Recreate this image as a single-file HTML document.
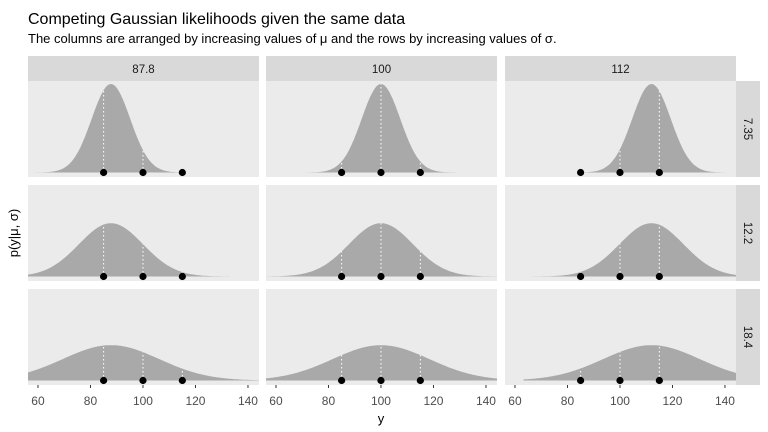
<!DOCTYPE html>
<html><head><meta charset="utf-8"><style>
html,body{margin:0;padding:0;background:#fff;}
svg{display:block;font-family:"Liberation Sans",Arial,sans-serif;}
</style></head><body>
<svg id="chart" width="768" height="432" viewBox="0 0 768 432">
<text x="28" y="24" font-size="16" fill="#000">Competing Gaussian likelihoods given the same data</text>
<text x="28" y="43" font-size="13" fill="#000">The columns are arranged by increasing values of μ and the rows by increasing values of σ.</text>
<text transform="translate(18,233) rotate(-90)" text-anchor="middle" font-size="13" fill="#000">p(y|μ, σ)</text>
<text x="381" y="423" text-anchor="middle" font-size="13" fill="#000">y</text>
<g id="plot"></g>
</svg>
<script>
const muValues = [87.8, 100, 112];
const sigmaValues = [7.35, 12.2, 18.4];
const dataPoints = [85, 100, 115];
const xTicks = [60, 80, 100, 120, 140];
const muLabels = ["87.8", "100", "112"];
const sigmaLabels = ["7.35", "12.2", "18.4"];

const NS = "http://www.w3.org/2000/svg";
const g = document.getElementById("plot");
const colX = [28, 266, 505], colW = 231;
const rowY = [81, 185, 289], rowH = 96;
const xMin = 56.2, xMax = 144.2;
const yScale = 1630;
function sx(c, v){ return colX[c] + (v - xMin) / (xMax - xMin) * colW; }
function sy(r, d){ return rowY[r] + rowH - 4.5 - d * yScale; }
function dens(x, m, s){ return Math.exp(-0.5*((x-m)/s)**2) / (s*Math.sqrt(2*Math.PI)); }
function mk(tag, attrs){ const e = document.createElementNS(NS, tag); for (const k in attrs) e.setAttribute(k, attrs[k]); g.appendChild(e); return e; }

muValues.forEach((m, c) => {
  const st = mk("rect", {x: colX[c], y: 56, width: colW, height: 25, fill: "#d9d9d9"});
  
  
  const tt = mk("text", {x: colX[c] + colW/2, y: 73, "text-anchor": "middle", "font-size": 11.5, fill: "#1a1a1a"});
  tt.textContent = muLabels[c];
  
  
  xTicks.forEach(t => {
    const tk = mk("line", {x1: sx(c, t), x2: sx(c, t), y1: rowY[2] + rowH, y2: rowY[2] + rowH + 3, stroke: "#333", "stroke-width": 1});
    
    
    const tl = mk("text", {x: sx(c, t), y: 405, "text-anchor": "middle", "font-size": 12, fill: "#4d4d4d"});
    tl.textContent = t;
    
    
  });
});
sigmaValues.forEach((s, r) => {
  const st = mk("rect", {x: 736, y: rowY[r], width: 24, height: rowH, fill: "#d9d9d9"});
  
  
  const tt = mk("text", {transform: `translate(744,${rowY[r] + rowH/2}) rotate(90)`, "text-anchor": "middle", "font-size": 11.5, fill: "#1a1a1a"});
  tt.textContent = sigmaLabels[r];
  
  
});

sigmaValues.forEach((s, r) => {
  muValues.forEach((m, c) => {
    const bg = mk("rect", {x: colX[c], y: rowY[r], width: colW, height: rowH, fill: "#ebebeb"});
    
    
    const lo = Math.max(xMin, m - 48.8), hi = Math.min(xMax, m + Math.max(48.8, 3 * s + 2));
    let pts = [[sx(c, lo), sy(r, 0)]];
    for (let i = 0; i <= 200; i++) {
      const x = lo + (hi - lo) * i / 200;
      pts.push([sx(c, x), sy(r, dens(x, m, s))]);
    }
    pts.push([sx(c, hi), sy(r, 0)]);
    const area = mk("polygon", {points: pts.map(p => p[0].toFixed(1) + "," + p[1].toFixed(1)).join(" "), fill: "#a9a9a9"});
    
    
    dataPoints.forEach(p => {
      const ln = mk("line", {x1: sx(c, p), x2: sx(c, p), y1: sy(r, 0), y2: sy(r, dens(p, m, s)), stroke: "#fff", "stroke-width": 1, "stroke-dasharray": "1.5,2.5"});
      
      
    });
    dataPoints.forEach(p => {
      const pt = mk("circle", {cx: sx(c, p), cy: sy(r, 0), r: 3.6, fill: "#000"});
      
      
    });
  });
});
</script>
</body></html>
